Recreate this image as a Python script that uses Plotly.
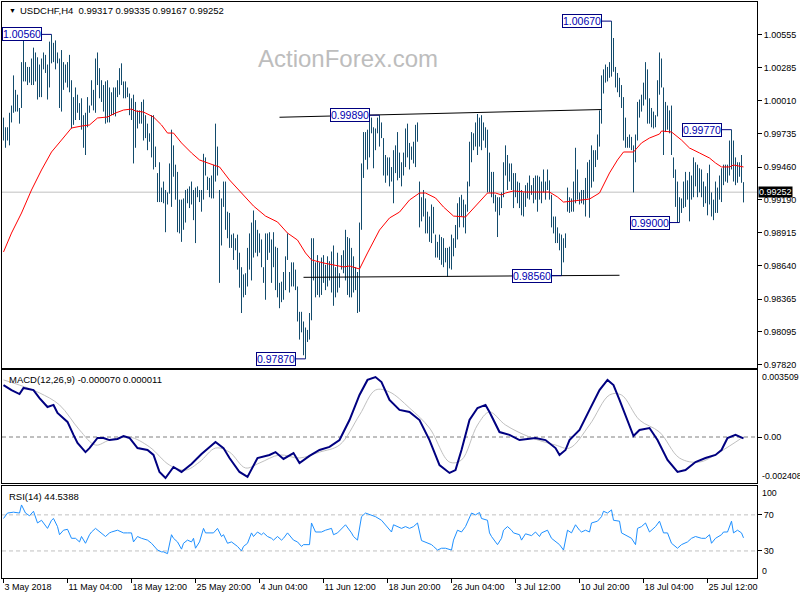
import plotly.graph_objects as go

# ---------------- data ----------------
high = [
 0.9987, 0.9979, 0.9979, 0.9991, 0.9997, 1.0022, 1.0010, 1.0006, 0.9995, 1.0033,
 1.0053, 1.0033, 1.0029, 1.0029, 1.0036, 1.0045, 1.0041, 1.0037, 1.0031, 1.0036,
 1.0041, 1.0039, 1.0031, 1.0050, 1.0056, 1.0049, 1.0051, 1.0041, 1.0036, 1.0043,
 1.0033, 1.0031, 1.0033, 1.0039, 1.0018, 1.0004, 1.0012, 1.0006, 0.9999, 1.0003,
 0.9989, 0.9991, 1.0004, 0.9997, 1.0018, 1.0010, 1.0036, 1.0041, 1.0028, 1.0018,
 1.0014, 1.0017, 1.0018, 1.0012, 1.0008, 1.0012, 1.0012, 1.0018, 1.0028, 1.0032,
 1.0017, 1.0017, 1.0012, 1.0007, 1.0003, 1.0006, 1.0000, 0.9993, 0.9993, 1.0000,
 1.0002, 0.9989, 0.9982, 0.9974, 0.9989, 0.9989, 0.9963, 0.9941, 0.9950, 0.9929,
 0.9934, 0.9927, 0.9925, 0.9949, 0.9977, 0.9964, 0.9948, 0.9942, 0.9919, 0.9919,
 0.9920, 0.9927, 0.9928, 0.9930, 0.9934, 0.9927, 0.9929, 0.9930, 0.9927, 0.9927,
 0.9957, 0.9954, 0.9938, 0.9937, 0.9939, 0.9948, 0.9982, 0.9963, 0.9927, 0.9920,
 0.9934, 0.9934, 0.9909, 0.9908, 0.9890, 0.9891, 0.9887, 0.9890, 0.9875, 0.9863,
 0.9857, 0.9858, 0.9879, 0.9891, 0.9900, 0.9910, 0.9902, 0.9894, 0.9891, 0.9886,
 0.9863, 0.9891, 0.9891, 0.9892, 0.9886, 0.9892, 0.9880, 0.9879, 0.9850, 0.9851,
 0.9859, 0.9872, 0.9891, 0.9859, 0.9867, 0.9867, 0.9861, 0.9847, 0.9826, 0.9826,
 0.9818, 0.9813, 0.9811, 0.9825, 0.9887, 0.9887, 0.9867, 0.9873, 0.9867, 0.9871,
 0.9873, 0.9865, 0.9872, 0.9868, 0.9876, 0.9881, 0.9863, 0.9875, 0.9858, 0.9873,
 0.9877, 0.9894, 0.9888, 0.9887, 0.9879, 0.9872, 0.9863, 0.9859, 0.9900, 0.9949,
 0.9975, 0.9975, 0.9977, 0.9985, 0.9987, 0.9979, 0.9978, 0.9987, 0.9989, 0.9983,
 0.9970, 0.9956, 0.9954, 0.9954, 0.9946, 0.9960, 0.9964, 0.9975, 0.9958, 0.9950,
 0.9958, 0.9978, 0.9982, 0.9966, 0.9963, 0.9967, 0.9981, 0.9983, 0.9934, 0.9921,
 0.9927, 0.9920, 0.9909, 0.9905, 0.9915, 0.9913, 0.9890, 0.9884, 0.9890, 0.9888,
 0.9887, 0.9879, 0.9879, 0.9880, 0.9890, 0.9887, 0.9898, 0.9916, 0.9921, 0.9923,
 0.9919, 0.9915, 0.9934, 0.9967, 0.9975, 0.9974, 0.9983, 0.9990, 0.9987, 0.9989,
 0.9983, 0.9979, 0.9977, 0.9958, 0.9942, 0.9942, 0.9923, 0.9921, 0.9921, 0.9925,
 0.9950, 0.9964, 0.9956, 0.9949, 0.9949, 0.9941, 0.9941, 0.9934, 0.9933, 0.9927,
 0.9925, 0.9931, 0.9933, 0.9939, 0.9931, 0.9937, 0.9939, 0.9939, 0.9938, 0.9934,
 0.9944, 0.9934, 0.9944, 0.9935, 0.9923, 0.9905, 0.9905, 0.9896, 0.9891, 0.9890,
 0.9887, 0.9891, 0.9929, 0.9921, 0.9920, 0.9934, 0.9962, 0.9944, 0.9925, 0.9927,
 0.9927, 0.9937, 0.9950, 0.9952, 0.9964, 0.9960, 0.9960, 0.9973, 0.9993, 1.0022,
 1.0027, 1.0031, 1.0029, 1.0033, 1.0067, 1.0053, 1.0029, 1.0024, 1.0020, 1.0014,
 1.0004, 0.9987, 0.9971, 0.9973, 0.9971, 0.9964, 0.9973, 1.0000, 1.0002, 1.0006,
 1.0016, 1.0033, 1.0027, 1.0003, 0.9995, 0.9992, 0.9989, 1.0018, 1.0041, 1.0036,
 1.0012, 1.0000, 0.9997, 0.9993, 0.9997, 0.9954, 0.9944, 0.9934, 0.9921, 0.9920,
 0.9934, 0.9942, 0.9935, 0.9942, 0.9939, 0.9954, 0.9950, 0.9948, 0.9945, 0.9944,
 0.9934, 0.9930, 0.9941, 0.9948, 0.9925, 0.9919, 0.9934, 0.9929, 0.9939, 0.9945,
 0.9948, 0.9948, 0.9948, 0.9968, 0.9977, 0.9968, 0.9954, 0.9950, 0.9950, 0.9956,
 0.99335]
low = [
 0.9968, 0.9962, 0.9968, 0.9964, 0.9983, 0.9991, 0.9992, 0.9992, 0.9982, 0.9995,
 1.0017, 1.0017, 1.0014, 1.0016, 1.0014, 1.0014, 1.0017, 1.0002, 1.0004, 1.0004,
 1.0027, 1.0024, 1.0002, 1.0012, 1.0032, 1.0033, 1.0027, 1.0032, 0.9995, 0.9992,
 1.0010, 1.0016, 1.0012, 1.0008, 0.9978, 0.9981, 0.9985, 0.9991, 0.9985, 0.9977,
 0.9962, 0.9956, 0.9979, 0.9991, 0.9997, 0.9993, 0.9991, 1.0014, 1.0003, 1.0000,
 0.9992, 0.9982, 0.9983, 0.9983, 0.9989, 0.9989, 0.9988, 1.0004, 1.0006, 1.0014,
 1.0003, 1.0003, 1.0004, 0.9989, 0.9985, 0.9949, 0.9962, 0.9978, 0.9982, 0.9982,
 0.9968, 0.9970, 0.9960, 0.9967, 0.9954, 0.9944, 0.9946, 0.9917, 0.9917, 0.9917,
 0.9916, 0.9892, 0.9915, 0.9924, 0.9913, 0.9938, 0.9919, 0.9892, 0.9891, 0.9884,
 0.9894, 0.9900, 0.9916, 0.9912, 0.9915, 0.9902, 0.9883, 0.9921, 0.9917, 0.9909,
 0.9919, 0.9939, 0.9927, 0.9921, 0.9920, 0.9920, 0.9934, 0.9939, 0.9850, 0.9881,
 0.9913, 0.9894, 0.9887, 0.9879, 0.9879, 0.9869, 0.9877, 0.9861, 0.9846, 0.9825,
 0.9838, 0.9840, 0.9847, 0.9861, 0.9852, 0.9871, 0.9875, 0.9872, 0.9875, 0.9863,
 0.9850, 0.9836, 0.9869, 0.9875, 0.9850, 0.9863, 0.9844, 0.9838, 0.9829, 0.9834,
 0.9836, 0.9844, 0.9869, 0.9842, 0.9847, 0.9847, 0.9844, 0.9818, 0.9803, 0.9809,
 0.9790, 0.9787, 0.9801, 0.9803, 0.9819, 0.9852, 0.9838, 0.9840, 0.9838, 0.9840,
 0.9850, 0.9844, 0.9847, 0.9852, 0.9842, 0.9831, 0.9838, 0.9842, 0.9846, 0.9861,
 0.9858, 0.9852, 0.9840, 0.9838, 0.9838, 0.9842, 0.9844, 0.9825, 0.9826, 0.9894,
 0.9937, 0.9952, 0.9944, 0.9954, 0.9974, 0.9945, 0.9960, 0.9974, 0.9963, 0.9970,
 0.9939, 0.9933, 0.9939, 0.9930, 0.9934, 0.9916, 0.9941, 0.9935, 0.9937, 0.9930,
 0.9939, 0.9946, 0.9954, 0.9944, 0.9952, 0.9949, 0.9946, 0.9967, 0.9896, 0.9901,
 0.9905, 0.9891, 0.9891, 0.9884, 0.9883, 0.9891, 0.9871, 0.9871, 0.9869, 0.9865,
 0.9863, 0.9867, 0.9855, 0.9862, 0.9861, 0.9872, 0.9879, 0.9886, 0.9896, 0.9905,
 0.9896, 0.9891, 0.9909, 0.9930, 0.9950, 0.9960, 0.9963, 0.9956, 0.9963, 0.9960,
 0.9968, 0.9962, 0.9925, 0.9925, 0.9921, 0.9916, 0.9909, 0.9888, 0.9906, 0.9912,
 0.9921, 0.9939, 0.9927, 0.9934, 0.9927, 0.9912, 0.9921, 0.9916, 0.9912, 0.9906,
 0.9905, 0.9913, 0.9920, 0.9919, 0.9923, 0.9916, 0.9919, 0.9909, 0.9919, 0.9916,
 0.9925, 0.9919, 0.9927, 0.9919, 0.9896, 0.9891, 0.9883, 0.9883, 0.9877, 0.9856,
 0.9867, 0.9879, 0.9909, 0.9908, 0.9909, 0.9909, 0.9916, 0.9919, 0.9915, 0.9916,
 0.9915, 0.9905, 0.9920, 0.9904, 0.9929, 0.9934, 0.9946, 0.9952, 0.9963, 0.9982,
 1.0007, 1.0016, 1.0017, 1.0020, 1.0021, 1.0025, 1.0012, 1.0008, 1.0004, 0.9995,
 0.9968, 0.9962, 0.9962, 0.9962, 0.9960, 0.9925, 0.9950, 0.9968, 0.9987, 0.9992,
 0.9997, 1.0002, 0.9982, 0.9982, 0.9979, 0.9978, 0.9979, 0.9988, 1.0006, 1.0012,
 0.9956, 0.9975, 0.9977, 0.9974, 0.9956, 0.9937, 0.9913, 0.9900, 0.9900, 0.9908,
 0.9912, 0.9913, 0.9919, 0.9901, 0.9919, 0.9921, 0.9930, 0.9921, 0.9925, 0.9921,
 0.9913, 0.9916, 0.9906, 0.9915, 0.9905, 0.9902, 0.9908, 0.9908, 0.9919, 0.9917,
 0.9931, 0.9934, 0.9933, 0.9939, 0.9944, 0.9934, 0.9931, 0.9933, 0.9938, 0.9933,
 0.99167]

ma_idx = [0, 4, 9, 14, 19, 24, 29, 34, 39, 43, 47, 52, 56, 60, 64, 66, 70, 75, 79, 82,
          85, 89, 94, 98, 105, 108, 113, 119, 125, 131, 137, 142, 147, 151, 154, 160, 165, 170, 173, 178,
          182, 188, 193, 198, 203, 208, 211, 216, 220, 225, 231, 235, 240, 242, 246, 249, 251, 255, 261, 268,
          273, 277, 280, 285, 289, 293, 298, 303, 307, 310, 315, 319, 323, 328, 329, 334, 339, 343, 348, 353,
          356, 359, 363, 365, 370]
ma_val = [0.98756, 0.98913, 0.99079, 0.99270, 0.99436, 0.99585, 0.99684, 0.99784, 0.99800, 0.99809,
          0.99867, 0.99875, 0.99908, 0.99933, 0.99941, 0.99925, 0.99916, 0.99875, 0.99809, 0.99742,
          0.99742, 0.99660, 0.99577, 0.99519, 0.99477, 0.99461, 0.99353, 0.99245, 0.99137, 0.99054,
          0.99005, 0.98913, 0.98855, 0.98748, 0.98690, 0.98665, 0.98648, 0.98632, 0.98640, 0.98615,
          0.98748, 0.98938, 0.99038, 0.99087, 0.99187, 0.99245, 0.99245, 0.99204, 0.99129, 0.99054,
          0.99046, 0.99121, 0.99212, 0.99245, 0.99245, 0.99229, 0.99245, 0.99262, 0.99253, 0.99253,
          0.99253, 0.99212, 0.99170, 0.99179, 0.99187, 0.99195, 0.99245, 0.99411, 0.99519, 0.99585,
          0.99585, 0.99660, 0.99701, 0.99734, 0.99759, 0.99751, 0.99684, 0.99618, 0.99577, 0.99535,
          0.99494, 0.99461, 0.99461, 0.99477, 0.99461]

macd_idx = [0, 4, 8, 10, 15, 18, 22, 25, 27, 32, 35, 37, 41, 43, 47, 50, 53, 57, 60, 63,
            67, 72, 75, 78, 81, 85, 89, 94, 99, 106, 110, 113, 118, 122, 127, 133, 136, 140, 145, 148,
            153, 158, 163, 168, 173, 178, 182, 186, 189, 193, 198, 203, 208, 213, 218, 223, 226, 229, 233, 237,
            241, 243, 248, 253, 258, 266, 271, 276, 278, 281, 283, 288, 293, 298, 302, 305, 308, 312, 315, 318,
            323, 327, 332, 337, 341, 346, 351, 356, 359, 362, 366, 370]
macd_val = [0.00272, 0.00246, 0.00225, 0.00257, 0.00246, 0.00204, 0.00157, 0.00168, 0.00126, 0.00079,
            0.00011, -0.00031, -0.00079, -0.00058, -0.00005, -0.00005, -0.00016, -0.00010, 0.00005, -0.00005,
            -0.00058, -0.00068, -0.00094, -0.00183, -0.00215, -0.00157, -0.00183, -0.00141, -0.00089, -0.00026,
            -0.00058, -0.00110, -0.00183, -0.00209, -0.00110, -0.00094, -0.00079, -0.00115, -0.00084, -0.00136,
            -0.00099, -0.00068, -0.00052, -0.00016, 0.00089, 0.00220, 0.00299, 0.00314, 0.00288, 0.00194,
            0.00142, 0.00131, 0.00089, -0.00016, -0.00147, -0.00188, -0.00173, -0.00068, 0.00089, 0.00152,
            0.00168, 0.00131, 0.00026, 0.00011, -0.00016, -0.00005, -0.00016, -0.00058, -0.00094, -0.00068,
            -0.00016, 0.00037, 0.00142, 0.00246, 0.00299, 0.00272, 0.00194, 0.00089, 0.00005, 0.00037,
            0.00047, -0.00016, -0.00120, -0.00183, -0.00173, -0.00131, -0.00110, -0.00094, -0.00068, -0.00005,
            0.00011, -0.00007]

sig_idx = [0, 8, 18, 28, 38, 46, 53, 63, 73, 83, 91, 98, 106, 113, 121, 128, 138, 148, 158, 168,
           178, 186, 193, 203, 213, 223, 229, 237, 243, 251, 263, 276, 283, 293, 303, 309, 318, 328, 338, 348,
           358, 370]
sig_val = [0.00299, 0.00272, 0.00231, 0.00168, 0.00037, -0.00042, -0.00016, 0.00000, -0.00052, -0.00147,
           -0.00173, -0.00131, -0.00058, -0.00079, -0.00162, -0.00136, -0.00094, -0.00110, -0.00079, -0.00042,
           0.00115, 0.00246, 0.00236, 0.00152, 0.00047, -0.00131, -0.00120, 0.00063, 0.00131, 0.00063,
           0.00000, -0.00042, -0.00058, 0.00063, 0.00220, 0.00220, 0.00089, 0.00026, -0.00110, -0.00131,
           -0.00079, 0.00001]

rsi_idx = [0, 2, 5, 8, 9, 11, 13, 15, 17, 19, 22, 24, 25, 27, 28, 30, 32, 34, 36, 38,
           39, 41, 43, 44, 46, 49, 51, 53, 54, 57, 59, 60, 62, 64, 65, 67, 69, 72, 74, 77,
           79, 80, 82, 84, 85, 87, 89, 90, 92, 94, 95, 96, 98, 100, 101, 103, 105, 107, 109, 110,
           112, 114, 115, 117, 119, 120, 122, 124, 125, 127, 129, 130, 132, 134, 135, 137, 139, 140, 142, 144,
           145, 147, 149, 150, 153, 154, 156, 159, 161, 164, 165, 167, 169, 171, 174, 175, 177, 179, 181, 184,
           186, 189, 191, 194, 195, 197, 199, 201, 203, 205, 207, 209, 211, 214, 215, 217, 219, 221, 224, 225,
           227, 229, 231, 233, 234, 236, 238, 239, 242, 243, 244, 247, 249, 250, 252, 254, 255, 258, 259, 261,
           263, 264, 266, 268, 269, 272, 274, 276, 278, 280, 282, 284, 286, 288, 289, 291, 293, 294, 297, 299,
           300, 302, 304, 305, 308, 309, 312, 314, 316, 317, 319, 321, 323, 324, 326, 328, 330, 332, 334, 337,
           339, 342, 344, 346, 349, 351, 353, 354, 356, 359, 360, 362, 364, 365, 367, 369, 370]
rsi_val = [66, 72, 73, 72, 81, 72, 69, 74, 61, 64, 55, 64, 66, 57, 48, 53, 54, 44, 44, 40,
           46, 38.5, 48, 51, 55, 50, 46, 50, 51, 53, 51, 50, 50, 50, 40, 46, 44, 42, 38.5, 31,
           29, 29, 27, 48, 44, 40, 32, 38.5, 42, 40, 44, 33, 40, 55, 50, 50, 50, 55, 46, 48,
           38.5, 40, 38.5, 35, 30, 35, 38.5, 50, 46, 51, 48, 50, 46, 44, 42, 46, 42, 44, 50, 44,
           42, 40, 35, 37, 37, 61, 51, 51, 53, 55, 48, 50, 55, 59, 50, 46, 42, 68, 72, 70,
           68, 64, 59, 51, 59, 57, 55, 57, 55, 57, 61, 41.5, 40, 37, 35, 31, 33, 33, 31, 42,
           53, 51, 57, 68, 72, 70, 72.6, 66, 64, 50, 46, 37, 44, 53, 57, 53, 50, 48, 42, 49,
           48, 47, 51, 46, 50, 53, 44, 40, 37, 31, 53, 50, 59, 53, 51, 53, 51, 61, 63, 68,
           74, 72, 75.5, 64, 63, 50, 46, 44, 37, 55, 57, 61, 51, 53, 57, 63, 50, 50, 38.5, 33,
           37, 40, 44, 46, 44, 44, 48, 38.5, 44, 48, 51, 51, 63, 50, 53, 50, 44.54]

price_ticks = [1.00555, 1.00285, 1.00010, 0.99735, 0.99460, 0.99190, 0.98915, 0.98640, 0.98365, 0.98095, 0.97820]
time_idx = [0, 32, 64, 96, 128, 160, 192, 224, 256, 288, 320, 352]
time_labels = ["3 May 2018", "11 May 04:00", "18 May 12:00", "25 May 20:00", "4 Jun 04:00", "11 Jun 12:00",
               "18 Jun 20:00", "26 Jun 04:00", "3 Jul 12:00", "10 Jul 20:00", "18 Jul 04:00", "25 Jul 12:00"]

mark_idx = [24, 188, 151, 279, 304, 364, 338]
mark_val = [1.00560, 0.99890, 0.97870, 0.98560, 1.00670, 0.99770, 0.99000]

upper_idx = [138, 299]
upper_val = [0.99873, 0.99937]
lower_idx = [150, 308]
lower_val = [0.98546, 0.98563]

last_price = 0.99252
ohlc_text = "USDCHF,H4\u00a0\u00a00.99317 0.99335 0.99167 0.99252"
macd_text = "MACD(12,26,9) -0.000070 0.000011"
rsi_text = "RSI(14) 44.5388"

# ---------------- styling ----------------
W, H = 800, 600
FONT = "Liberation Sans"
BAR = "#134B6C"
XR = [-0.75, 376.75]
XD = [2 / W, 757 / W]

def py(p):
    return 1 - p / H

fig = go.Figure()

bx, by = [], []
for i, (h, l) in enumerate(zip(high, low)):
    bx += [i, i, None]
    by += [l, h, None]
fig.add_trace(go.Scatter(x=bx, y=by, mode="lines", line=dict(color=BAR, width=1),
                         hoverinfo="skip", xaxis="x", yaxis="y"))
fig.add_trace(go.Scatter(x=ma_idx, y=ma_val, mode="lines", line=dict(color="#FF0000", width=1),
                         hoverinfo="skip", xaxis="x", yaxis="y"))
fig.add_trace(go.Scatter(x=sig_idx, y=sig_val, mode="lines", line=dict(color="#C0C0C0", width=1, shape="spline"),
                         hoverinfo="skip", xaxis="x2", yaxis="y2"))
fig.add_trace(go.Scatter(x=macd_idx, y=macd_val, mode="lines", line=dict(color="#000080", width=2),
                         hoverinfo="skip", xaxis="x2", yaxis="y2"))
fig.add_trace(go.Scatter(x=rsi_idx, y=rsi_val, mode="lines", line=dict(color="#1E90FF", width=1),
                         hoverinfo="skip", xaxis="x3", yaxis="y3"))

shapes = []
shapes.append(dict(type="line", xref="x domain", yref="y", x0=0, x1=1, y0=last_price, y1=last_price,
                   line=dict(color="#C0C0C0", width=1), layer="below"))
shapes.append(dict(type="line", xref="x", yref="y", x0=upper_idx[0], x1=upper_idx[1],
                   y0=upper_val[0], y1=upper_val[1], line=dict(color="black", width=1)))
shapes.append(dict(type="line", xref="x", yref="y", x0=lower_idx[0], x1=lower_idx[1],
                   y0=lower_val[0], y1=lower_val[1], line=dict(color="black", width=1)))
shapes.append(dict(type="line", xref="x2 domain", yref="y2", x0=0, x1=1, y0=0, y1=0,
                   line=dict(color="#808080", width=1, dash="4px,3px"), layer="below"))
for lv in (70, 30):
    shapes.append(dict(type="line", xref="x3 domain", yref="y3", x0=0, x1=1, y0=lv, y1=lv,
                       line=dict(color="#C0C0C0", width=1, dash="4px,3px"), layer="below"))

ann = []
OFF = 4.8
for idx, val in zip(mark_idx, mark_val):
    shapes.append(dict(type="line", xref="x", yref="y", x0=idx - OFF, x1=idx, y0=val, y1=val,
                       line=dict(color="#000080", width=1)))
    ann.append(dict(x=idx - OFF, y=val, xref="x", yref="y", xanchor="right", yanchor="middle",
                    text=f"{val:.5f}", showarrow=False, bgcolor="white", bordercolor="#000080",
                    borderwidth=1, borderpad=0, font=dict(family=FONT, size=10.5, color="#0000B0")))

ann.append(dict(x=348 / W, y=py(58), xref="paper", yref="paper", text="ActionForex.com", showarrow=False,
                font=dict(family=FONT, size=24, color="#BDBDBD"), xanchor="center", yanchor="middle"))
ann.append(dict(x=7 / W, y=py(11), xref="paper", yref="paper", text="\u25BC", showarrow=False,
                font=dict(family=FONT, size=7, color="black"), xanchor="left", yanchor="middle"))
ann.append(dict(x=18 / W, y=py(11), xref="paper", yref="paper", text=ohlc_text, showarrow=False,
                font=dict(family=FONT, size=9.5, color="black"), xanchor="left", yanchor="middle"))
ann.append(dict(x=7 / W, y=py(379), xref="paper", yref="paper", text=macd_text, showarrow=False,
                font=dict(family=FONT, size=9.5, color="black"), xanchor="left", yanchor="middle"))
ann.append(dict(x=7 / W, y=py(496), xref="paper", yref="paper", text=rsi_text, showarrow=False,
                font=dict(family=FONT, size=9.5, color="black"), xanchor="left", yanchor="middle"))
ann.append(dict(x=758 / W, y=last_price, xref="paper", yref="y", text=f"{last_price:.5f}", showarrow=False,
                xanchor="left", yanchor="middle", bgcolor="black", borderpad=0,
                font=dict(family=FONT, size=9, color="white")))
for txt, yv, yr, anc in [("0.003509", 0.003509, "y2", "top"), ("-0.002408", -0.002408, "y2", "bottom"),
                         ("100", 102, "y3", "top"), ("0", 0, "y3", "bottom")]:
    ann.append(dict(x=760 / W, y=yv, xref="paper", yref=yr, text=txt, showarrow=False,
                    xanchor="left", yanchor=anc, font=dict(family=FONT, size=8.8, color="black")))

common_x = dict(range=XR, domain=XD, showline=True, mirror=True, linecolor="black", linewidth=1,
                showgrid=False, zeroline=False, automargin=False, fixedrange=True)
common_y = dict(side="right", showline=True, mirror=True, linecolor="black", linewidth=1,
                showgrid=False, zeroline=False, ticks="outside", ticklen=4, tickcolor="black",
                automargin=False, tickfont=dict(family=FONT, size=9, color="black"))

fig.update_layout(
    width=W, height=H, margin=dict(l=0, r=0, t=0, b=0), template="none",
    paper_bgcolor="white", plot_bgcolor="white", showlegend=False,
    font=dict(family=FONT, size=9, color="black"),
    xaxis=dict(**common_x, anchor="y", ticks="", showticklabels=False),
    xaxis2=dict(**common_x, anchor="y2", ticks="", showticklabels=False, matches="x"),
    xaxis3=dict(**common_x, anchor="y3", matches="x", ticks="outside", ticklen=4, tickcolor="black",
                tickvals=time_idx, ticktext=time_labels, ticklabelposition="outside right",
                tickfont=dict(family=FONT, size=9, color="black")),
    yaxis=dict(**common_y, anchor="x", domain=[py(368), py(1.5)], range=[0.977943, 1.008326],
               tickvals=price_ticks, ticktext=[f"{v:.5f}" for v in price_ticks]),
    yaxis2=dict(**common_y, anchor="x2", domain=[py(483), py(370)], range=[-0.002408, 0.003509],
                tickvals=[0], ticktext=["0.00"]),
    yaxis3=dict(**common_y, anchor="x3", domain=[py(578), py(486)], range=[0, 102],
                tickvals=[70, 30], ticktext=["70", "30"]),
    shapes=shapes, annotations=ann,
)

fig.write_html("out.html", config={"displayModeBar": False},
               post_script="document.body.style.margin='0';document.body.style.padding='0';")
